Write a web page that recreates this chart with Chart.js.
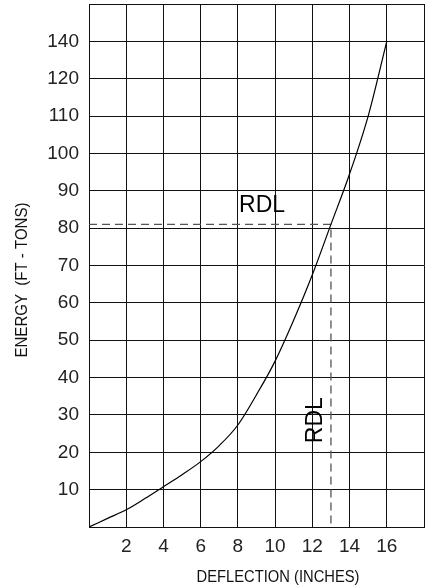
<!DOCTYPE html>
<html>
<head>
<meta charset="utf-8">
<script src="https://cdn.jsdelivr.net/npm/chart.js@4"></script>
<style>
  html, body { margin: 0; padding: 0; background: #fff; }
  #wrap { width: 426px; height: 588px; }
</style>
</head>
<body>
<div id="wrap"><canvas id="c" width="426" height="588"></canvas></div>
<script>
// Deflection (inches) and energy curve (y in grid units)
const deflection = [0, 1, 2, 3, 4, 5, 6, 7, 8, 9, 10, 11, 12, 13, 14, 15, 16];
const energy     = [0, 2.3, 4.6, 7.6, 10.8, 14.0, 17.5, 21.8, 27.3, 35.4, 44.4, 55.4, 67.5, 81, 94.5, 110, 130];
// RDL reference point
const rdlDeflection = 13;
const rdlEnergy = 81;
// Tick labels (the original skips 130: the top labelled gridline reads 140)
const xTickValues = [2, 4, 6, 8, 10, 12, 14, 16];
const yTickValues = [10, 20, 30, 40, 50, 60, 70, 80, 90, 100, 110, 120, 130];
const yTickLabels = ['10', '20', '30', '40', '50', '60', '70', '80', '90', '100', '110', '120', '140'];
const xTitle = 'DEFLECTION (INCHES)';
const yTitle = 'ENERGY  (FT - TONS)';
const rdlText = 'RDL';

const curve = deflection.map((x, i) => ({ x: x, y: energy[i] }));
const rdlPath = [
  { x: 0, y: rdlEnergy },
  { x: rdlDeflection, y: rdlEnergy },
  { x: rdlDeflection, y: 0 }
];

const textPlugin = {
  id: 'texts',
  afterDraw(chart) {
    const ctx = chart.ctx;
    const xs = chart.scales.x, ys = chart.scales.y;
    ctx.save();
    ctx.fillStyle = '#111';
    ctx.font = '17px "Liberation Sans Narrow", "Liberation Sans", Arial, sans-serif';
    ctx.textAlign = 'center';
    ctx.textBaseline = 'alphabetic';
    ctx.fillText(xTitle, 278, 582, 163);
    ctx.save();
    ctx.translate(27, 280);
    ctx.rotate(-Math.PI / 2);
    ctx.fillText(yTitle, 0, 0, 155);
    ctx.restore();
    ctx.font = '23px "Liberation Sans", Arial, sans-serif';
    ctx.fillStyle = '#000';
    ctx.fillText(rdlText, xs.getPixelForValue(9.3), ys.getPixelForValue(86.5) + 8);
    ctx.save();
    ctx.translate(xs.getPixelForValue(12.1) + 8, ys.getPixelForValue(28.6));
    ctx.rotate(-Math.PI / 2);
    ctx.fillText(rdlText, 0, 0);
    ctx.restore();
    ctx.restore();
  }
};

new Chart(document.getElementById('c'), {
  type: 'scatter',
  data: {
    datasets: [
      {
        data: curve,
        showLine: true,
        borderColor: '#000',
        borderWidth: 1.2,
        pointRadius: 0,
        cubicInterpolationMode: 'monotone',
        fill: false
      },
      {
        data: rdlPath,
        showLine: true,
        borderColor: '#555',
        borderWidth: 1.3,
        borderDash: [8, 5],
        pointRadius: 0,
        tension: 0,
        fill: false
      }
    ]
  },
  options: {
    responsive: false,
    animation: false,
    devicePixelRatio: 1,
    layout: { padding: { left: 0, right: 2, top: 4, bottom: 0 } },
    plugins: { legend: { display: false }, tooltip: { enabled: false } },
    scales: {
      x: {
        type: 'linear',
        min: 0, max: 18,
        afterBuildTicks(scale) {
          scale.ticks = [0].concat(xTickValues, [18]).map(v => ({ value: v }));
        },
        afterFit(scale) {
          scale.height = 61;
          scale.paddingLeft = 0; scale.paddingRight = 0;
        },
        grid: { color: '#111', lineWidth: 1, drawTicks: false },
        border: { color: '#111', width: 1 },
        ticks: {
          padding: 8,
          color: '#222',
          font: { family: '"Liberation Sans", Arial, sans-serif', size: 19 },
          maxRotation: 0,
          autoSkip: false,
          callback: (v) => xTickValues.includes(v) ? String(v) : ''
        }
      },
      y: {
        type: 'linear',
        min: 0, max: 140,
        afterBuildTicks(scale) {
          scale.ticks = [0].concat(yTickValues, [140]).map(v => ({ value: v }));
        },
        afterFit(scale) {
          scale.width = 89;
          scale.paddingTop = 0; scale.paddingBottom = 0;
        },
        grid: { color: '#111', lineWidth: 1, drawTicks: false },
        border: { color: '#111', width: 1 },
        ticks: {
          padding: 10,
          color: '#222',
          font: { family: '"Liberation Sans", Arial, sans-serif', size: 19 },
          autoSkip: false,
          callback: (v) => {
            const i = yTickValues.indexOf(v);
            return i >= 0 ? yTickLabels[i] : '';
          }
        }
      }
    }
  },
  plugins: [textPlugin]
});
</script>
</body>
</html>
